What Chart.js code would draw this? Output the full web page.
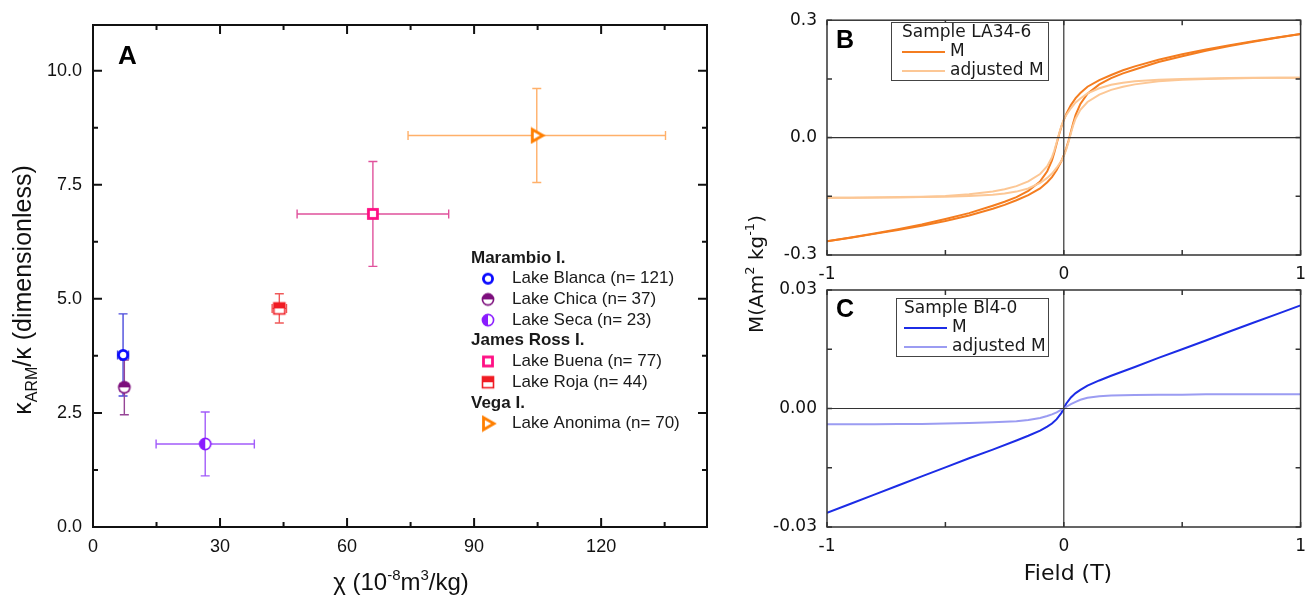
<!DOCTYPE html>
<html>
<head>
<meta charset="utf-8">
<script src="https://cdn.jsdelivr.net/npm/chart.js@4.4.1/dist/chart.umd.min.js"></script>
<style>
  html, body { margin: 0; padding: 0; background: #fff; }
  #wrap { position: relative; width: 1315px; height: 598px; overflow: hidden; }
  #wrap canvas { position: absolute; left: 0; top: 0; }
</style>
</head>
<body>
<div id="wrap">
  <canvas id="chartA" width="1315" height="598"></canvas>
  <canvas id="chartB" width="1315" height="598"></canvas>
  <canvas id="chartC" width="1315" height="598"></canvas>
</div>
<script>
// ===== panel A data =====
const islands     = ['Marambio I.', 'James Ross I.', 'Vega I.'];
const lakeNames   = ['Lake Blanca (n= 121)', 'Lake Chica (n= 37)', 'Lake Seca (n= 23)', 'Lake Buena (n= 77)', 'Lake Roja (n= 44)', 'Lake Anonima (n= 70)'];
const lakeIsland  = [0, 0, 0, 1, 1, 2];
const chiMean     = [7.1, 7.4, 26.5, 66.1, 44.0, 104.8];
const chiErr      = [1.3, 1.0, 11.6, 17.9, 1.7, 30.4];
const ratioMean   = [3.77, 3.06, 1.82, 6.86, 4.79, 8.58];
const ratioErr    = [0.9, 0.6, 0.7, 1.15, 0.32, 1.03];
const lakeMarker  = ['circle', 'circleTop', 'circleLeft', 'square', 'squareTop', 'triangle'];
const lakeColor   = ['#0a0aff', '#7d0f7d', '#8a1cff', '#ff0f84', '#f01c24', '#ff7f00'];
const errColor    = ['#4b4bdc', '#964596', '#a25cfa', '#e0529c', '#f05a5a', '#ffb06a'];
const aXTicks = [0, 30, 60, 90, 120];
const aXMinor = [15, 45, 75, 105, 135];
const aYTicks = [0, 2.5, 5, 7.5, 10];
const aYMinor = [1.25, 3.75, 6.25, 8.75];

// ===== panel B data (sample LA34-6) =====
const bFieldDown = [1, 0.9, 0.8, 0.7, 0.6, 0.5, 0.4, 0.3, 0.25, 0.2, 0.15, 0.1, 0.07, 0.05, 0.03, 0.01, 0, -0.01, -0.02, -0.03, -0.04, -0.05, -0.07, -0.1, -0.15, -0.2, -0.25, -0.3, -0.4, -0.5, -0.6, -0.7, -0.8, -0.9, -1];
const bMDown     = [0.265, 0.256, 0.246, 0.236, 0.225, 0.213, 0.199, 0.182, 0.172, 0.160, 0.147, 0.130, 0.114, 0.101, 0.083, 0.060, 0.045, 0.028, 0.008, -0.015, -0.038, -0.058, -0.086, -0.112, -0.136, -0.152, -0.164, -0.174, -0.193, -0.208, -0.222, -0.234, -0.245, -0.255, -0.265];
const bAdjDown   = [0.153, 0.153, 0.153, 0.152, 0.151, 0.150, 0.148, 0.144, 0.140, 0.135, 0.126, 0.113, 0.100, 0.090, 0.075, 0.057, 0.046, 0.030, 0.010, -0.012, -0.033, -0.050, -0.073, -0.093, -0.112, -0.124, -0.132, -0.138, -0.145, -0.149, -0.151, -0.152, -0.153, -0.154, -0.154];
const bFieldUp   = [-1, -0.9, -0.8, -0.7, -0.6, -0.5, -0.4, -0.3, -0.25, -0.2, -0.15, -0.1, -0.07, -0.05, -0.03, -0.01, 0, 0.01, 0.02, 0.03, 0.04, 0.05, 0.07, 0.1, 0.15, 0.2, 0.25, 0.3, 0.4, 0.5, 0.6, 0.7, 0.8, 0.9, 1];
const bMUp       = [-0.265, -0.256, -0.246, -0.236, -0.225, -0.213, -0.199, -0.182, -0.172, -0.160, -0.147, -0.130, -0.114, -0.101, -0.083, -0.060, -0.045, -0.028, -0.008, 0.015, 0.038, 0.058, 0.086, 0.112, 0.136, 0.152, 0.164, 0.174, 0.193, 0.208, 0.222, 0.234, 0.245, 0.255, 0.265];
const bAdjUp     = [-0.154, -0.154, -0.153, -0.153, -0.152, -0.151, -0.149, -0.146, -0.143, -0.138, -0.130, -0.116, -0.103, -0.092, -0.077, -0.059, -0.047, -0.031, -0.011, 0.011, 0.032, 0.049, 0.071, 0.091, 0.110, 0.122, 0.130, 0.136, 0.144, 0.148, 0.150, 0.151, 0.152, 0.153, 0.153];
const bXTicks = [-1, 0, 1];
const bXMinor = [-0.5, 0.5];
const bYTicks = [-0.3, 0, 0.3];
const bYMinor = [-0.15, 0.15];

// ===== panel C data (sample Bl4-0) =====
const cField = [-1, -0.9, -0.8, -0.7, -0.6, -0.5, -0.4, -0.3, -0.2, -0.15, -0.1, -0.07, -0.05, -0.03, -0.01, 0, 0.01, 0.03, 0.05, 0.07, 0.1, 0.15, 0.2, 0.3, 0.4, 0.5, 0.6, 0.7, 0.8, 0.9, 1];
const cM     = [-0.0264, -0.0241, -0.0218, -0.0195, -0.0172, -0.0149, -0.0126, -0.0104, -0.0081, -0.0069, -0.0056, -0.0046, -0.0038, -0.0027, -0.0011, 0, 0.0012, 0.0028, 0.0039, 0.0047, 0.0058, 0.0071, 0.0083, 0.0105, 0.0128, 0.0150, 0.0172, 0.0195, 0.0217, 0.0239, 0.0261];
const cAdj   = [-0.0040, -0.0040, -0.0040, -0.0039, -0.0039, -0.0038, -0.0037, -0.0035, -0.0032, -0.0029, -0.0024, -0.0019, -0.0015, -0.0010, -0.0003, 0, 0.0004, 0.0011, 0.0017, 0.0022, 0.0027, 0.0031, 0.0033, 0.0034, 0.0035, 0.0035, 0.0036, 0.0036, 0.0036, 0.0036, 0.0036];
const cXTicks = [-1, 0, 1];
const cXMinor = [-0.5, 0.5];
const cYTicks = [-0.03, 0, 0.03];
const cYMinor = [-0.015, 0.015];

const ARIAL  = '"Liberation Sans", Arial, Helvetica, sans-serif';
const DEJAVU = '"DejaVu Sans", Verdana, sans-serif';
const pts = (xs, ys) => xs.map((v, i) => ({ x: v, y: ys[i] }));

// ===== helpers =====
function makeMarker(kind, color) {
  const c = document.createElement('canvas');
  c.width = 18; c.height = 18;
  const g = c.getContext('2d'), m = 9;
  g.strokeStyle = color; g.fillStyle = color;
  if (kind === 'circle') {
    g.lineWidth = 2.8; g.beginPath(); g.arc(m, m, 4.6, 0, 2 * Math.PI);
    g.fillStyle = '#fff'; g.fill(); g.stroke();
  } else if (kind === 'circleTop' || kind === 'circleLeft') {
    g.beginPath(); g.arc(m, m, 5.6, 0, 2 * Math.PI); g.fillStyle = '#fff'; g.fill();
    g.fillStyle = color; g.beginPath();
    if (kind === 'circleTop') g.arc(m, m, 5.6, Math.PI, 2 * Math.PI);
    else g.arc(m, m, 5.6, Math.PI / 2, 1.5 * Math.PI);
    g.closePath(); g.fill();
    g.lineWidth = 1.6; g.beginPath(); g.arc(m, m, 5.6, 0, 2 * Math.PI); g.stroke();
  } else if (kind === 'square') {
    g.lineWidth = 2.8; g.fillStyle = '#fff';
    g.fillRect(m - 4.5, m - 4.5, 9, 9); g.strokeRect(m - 4.5, m - 4.5, 9, 9);
  } else if (kind === 'squareTop') {
    g.fillStyle = '#fff'; g.fillRect(m - 5.5, m - 5.5, 11, 11);
    g.fillStyle = color; g.fillRect(m - 5.5, m - 5.5, 11, 5.5);
    g.lineWidth = 1.6; g.strokeRect(m - 5.5, m - 5.5, 11, 11);
  } else if (kind === 'triangle') {
    g.lineWidth = 2.8; g.lineJoin = 'miter'; g.beginPath();
    g.moveTo(m - 4.5, m - 6); g.lineTo(m + 6, m); g.lineTo(m - 4.5, m + 6); g.closePath();
    g.fillStyle = '#fff'; g.fill(); g.stroke();
  }
  return c;
}

function drawRich(ctx, parts, family, x, y) {
  ctx.textAlign = 'left'; ctx.textBaseline = 'alphabetic';
  const w = parts.map(p => { ctx.font = `${p.size}px ${family}`; return ctx.measureText(p.t).width; });
  let cx = x - w.reduce((a, b) => a + b, 0) / 2;
  parts.forEach((p, i) => { ctx.font = `${p.size}px ${family}`; ctx.fillText(p.t, cx, y + (p.dy || 0)); cx += w[i]; });
}

// box, inward ticks on all sides, optional zero lines, panel letter
function makeFrame(o) {
  return {
    id: 'frame' + o.tag,
    afterDraw(chart) {
      const { ctx, chartArea: a, scales: { x, y } } = chart;
      ctx.save();
      ctx.strokeStyle = o.color;
      if (o.zero) {
        ctx.lineWidth = o.zeroWidth; ctx.beginPath();
        const zx = x.getPixelForValue(0), zy = y.getPixelForValue(0);
        ctx.moveTo(zx, a.top); ctx.lineTo(zx, a.bottom);
        ctx.moveTo(a.left, zy); ctx.lineTo(a.right, zy);
        ctx.stroke();
      }
      ctx.lineWidth = o.width; ctx.beginPath();
      const xt = (vals, len) => vals.forEach(v => {
        const p = x.getPixelForValue(v);
        ctx.moveTo(p, a.bottom); ctx.lineTo(p, a.bottom - len);
        ctx.moveTo(p, a.top); ctx.lineTo(p, a.top + len);
      });
      const yt = (vals, len) => vals.forEach(v => {
        const p = y.getPixelForValue(v);
        ctx.moveTo(a.left, p); ctx.lineTo(a.left + len, p);
        ctx.moveTo(a.right, p); ctx.lineTo(a.right - len, p);
      });
      xt(o.xMajor, o.major); xt(o.xMinor, o.minor);
      yt(o.yMajor, o.major); yt(o.yMinor, o.minor);
      ctx.stroke();
      ctx.strokeRect(a.left, a.top, a.right - a.left, a.bottom - a.top);
      ctx.fillStyle = '#000';
      ctx.font = `bold ${o.labelSize}px ${ARIAL}`;
      ctx.textAlign = 'left'; ctx.textBaseline = 'alphabetic';
      ctx.fillText(o.tag, a.left + o.labelDx, a.top + o.labelDy);
      ctx.restore();
    }
  };
}

// legend box for the hysteresis panels
function makeBoxLegend(o) {
  return {
    id: 'boxLegend' + o.id,
    afterDraw(chart) {
      const ctx = chart.ctx;
      ctx.save();
      ctx.fillStyle = '#fff'; ctx.strokeStyle = '#444'; ctx.lineWidth = 1;
      ctx.fillRect(o.x0, o.y0, o.x1 - o.x0, o.y1 - o.y0);
      ctx.strokeRect(o.x0 + 0.5, o.y0 + 0.5, o.x1 - o.x0, o.y1 - o.y0);
      ctx.font = `17px ${DEJAVU}`; ctx.fillStyle = '#1a1a1a';
      ctx.textAlign = 'left'; ctx.textBaseline = 'middle';
      ctx.fillText(o.title, o.tx, o.rows[0]);
      o.items.forEach((it, i) => {
        const yy = o.rows[i + 1];
        ctx.strokeStyle = it.color; ctx.lineWidth = 2;
        ctx.beginPath(); ctx.moveTo(o.tx, yy); ctx.lineTo(o.tx + 43, yy); ctx.stroke();
        ctx.fillText(it.label, o.tx + 48, yy);
      });
      ctx.restore();
    }
  };
}

// ===== panel A =====
(function () {
  const markers = lakeMarker.map((k, i) => makeMarker(k, lakeColor[i]));

  const errorBars = {
    id: 'errorBars',
    beforeDatasetsDraw(chart) {
      const { ctx, scales: { x, y } } = chart;
      ctx.save(); ctx.lineWidth = 1.4;
      lakeNames.forEach((_, i) => {
        const cx = x.getPixelForValue(chiMean[i]), cy = y.getPixelForValue(ratioMean[i]);
        const x0 = x.getPixelForValue(chiMean[i] - chiErr[i]), x1 = x.getPixelForValue(chiMean[i] + chiErr[i]);
        const y0 = y.getPixelForValue(ratioMean[i] - ratioErr[i]), y1 = y.getPixelForValue(ratioMean[i] + ratioErr[i]);
        ctx.strokeStyle = errColor[i]; ctx.beginPath();
        ctx.moveTo(x0, cy); ctx.lineTo(x1, cy);
        ctx.moveTo(cx, y0); ctx.lineTo(cx, y1);
        ctx.moveTo(x0, cy - 4.5); ctx.lineTo(x0, cy + 4.5);
        ctx.moveTo(x1, cy - 4.5); ctx.lineTo(x1, cy + 4.5);
        ctx.moveTo(cx - 4.5, y0); ctx.lineTo(cx + 4.5, y0);
        ctx.moveTo(cx - 4.5, y1); ctx.lineTo(cx + 4.5, y1);
        ctx.stroke();
      });
      ctx.restore();
    }
  };

  const legendA = {
    id: 'legendA',
    afterDraw(chart) {
      const ctx = chart.ctx;
      ctx.save(); ctx.fillStyle = '#1a1a1a'; ctx.textBaseline = 'middle'; ctx.textAlign = 'left';
      let row = 0;
      islands.forEach((isl, k) => {
        const yy = 258 + row * 20.7; row++;
        ctx.font = `bold 17px ${ARIAL}`; ctx.fillText(isl, 471, yy);
        lakeNames.forEach((name, i) => {
          if (lakeIsland[i] !== k) return;
          const ly = 258 + row * 20.7; row++;
          ctx.drawImage(markers[i], 488 - markers[i].width / 2, ly - markers[i].height / 2);
          ctx.font = `17px ${ARIAL}`; ctx.fillText(name, 512, ly);
        });
      });
      ctx.restore();
    }
  };

  const titlesA = {
    id: 'titlesA',
    afterDraw(chart) {
      const ctx = chart.ctx;
      ctx.save(); ctx.fillStyle = '#111';
      drawRich(ctx, [{ t: 'χ (10', size: 24 }, { t: '-8', size: 15, dy: -10 }, { t: 'm', size: 24 }, { t: '3', size: 15, dy: -10 }, { t: '/kg)', size: 24 }], ARIAL, 401, 590);
      ctx.translate(31, 290); ctx.rotate(-Math.PI / 2);
      drawRich(ctx, [{ t: 'κ', size: 25 }, { t: 'ARM', size: 16, dy: 6 }, { t: '/κ (dimensionless)', size: 25 }], ARIAL, 0, 0);
      ctx.restore();
    }
  };

  new Chart(document.getElementById('chartA'), {
    type: 'scatter',
    data: {
      datasets: lakeNames.map((name, i) => ({
        label: name,
        data: [{ x: chiMean[i], y: ratioMean[i] }],
        pointStyle: markers[i], pointRadius: 6, pointHoverRadius: 6
      }))
    },
    options: {
      responsive: false, animation: false, events: [],
      layout: { padding: { left: 0, top: 25, right: 1315 - 707, bottom: 0 } },
      plugins: { legend: { display: false }, tooltip: { enabled: false } },
      scales: {
        x: {
          type: 'linear', min: 0, max: 145,
          grid: { display: false, drawTicks: false }, border: { display: false },
          afterFit: s => { s.height = 598 - 527; },
          afterBuildTicks: s => { s.ticks = aXTicks.map(v => ({ value: v })); },
          ticks: { padding: 9, autoSkip: false, maxRotation: 0, color: '#111', font: { family: ARIAL, size: 18 }, callback: v => String(v) }
        },
        y: {
          type: 'linear', min: 0, max: 11,
          grid: { display: false, drawTicks: false }, border: { display: false },
          afterFit: s => { s.width = 93; },
          afterBuildTicks: s => { s.ticks = aYTicks.map(v => ({ value: v })); },
          ticks: { padding: 11, autoSkip: false, color: '#111', font: { family: ARIAL, size: 18 }, callback: v => Number(v).toFixed(1) }
        }
      }
    },
    plugins: [errorBars, makeFrame({ tag: 'A', color: '#111', width: 2, major: 9, minor: 5,
      xMajor: aXTicks, xMinor: aXMinor, yMajor: aYTicks, yMinor: aYMinor,
      labelSize: 26, labelDx: 25, labelDy: 39 }), legendA, titlesA]
  });
})();

// ===== panels B and C (hysteresis loops) =====
function hystScales(top, bottom, xTicks, yTicks, yDigits) {
  return {
    x: {
      type: 'linear', min: -1, max: 1,
      grid: { display: false, drawTicks: false }, border: { display: false },
      afterFit: s => { s.height = 598 - bottom; },
      afterBuildTicks: s => { s.ticks = xTicks.map(v => ({ value: v })); },
      ticks: { padding: 9, autoSkip: false, maxRotation: 0, color: '#111', font: { family: DEJAVU, size: 17 }, callback: v => String(v) }
    },
    y: {
      type: 'linear', min: yTicks[0], max: yTicks[yTicks.length - 1],
      grid: { display: false, drawTicks: false }, border: { display: false },
      afterFit: s => { s.width = 827; },
      afterBuildTicks: s => { s.ticks = yTicks.map(v => ({ value: v })); },
      ticks: { padding: 10, autoSkip: false, color: '#111', font: { family: DEJAVU, size: 17 }, callback: v => Number(v).toFixed(yDigits) }
    }
  };
}

const lineDs = (data, color) => ({ data, showLine: true, borderColor: color, borderWidth: 2, pointRadius: 0, tension: 0, fill: false });

(function () {
  const mCol = '#f47d20', adjCol = '#fcc795';
  new Chart(document.getElementById('chartB'), {
    type: 'scatter',
    data: {
      datasets: [
        lineDs(pts(bFieldDown, bAdjDown), adjCol),
        lineDs(pts(bFieldUp, bAdjUp), adjCol),
        lineDs(pts(bFieldDown, bMDown), mCol),
        lineDs(pts(bFieldUp, bMUp), mCol)
      ]
    },
    options: {
      responsive: false, animation: false, events: [],
      layout: { padding: { left: 0, top: 18, right: 6, bottom: 0 } },
      plugins: { legend: { display: false }, tooltip: { enabled: false } },
      scales: hystScales(18, 255, bXTicks, bYTicks, 1)
    },
    plugins: [makeFrame({ tag: 'B', color: '#333', width: 1.5, zero: true, zeroWidth: 1.2, major: 5, minor: 5,
      xMajor: bXTicks, xMinor: bXMinor, yMajor: bYTicks, yMinor: bYMinor,
      labelSize: 25, labelDx: 9, labelDy: 28 }),
      makeBoxLegend({ id: 'B', x0: 891, y0: 22, x1: 1048, y1: 80, tx: 902, rows: [33, 52, 71], title: 'Sample LA34-6',
        items: [{ label: 'M', color: mCol }, { label: 'adjusted M', color: adjCol }] })]
  });
})();

(function () {
  const mCol = '#1c2ce6', adjCol = '#9b9cf2';
  const titlesC = {
    id: 'titlesC',
    afterDraw(chart) {
      const ctx = chart.ctx;
      ctx.save(); ctx.fillStyle = '#111';
      drawRich(ctx, [{ t: 'Field (T)', size: 22 }], DEJAVU, 1068, 580);
      ctx.translate(763, 274); ctx.rotate(-Math.PI / 2);
      drawRich(ctx, [{ t: 'M(Am', size: 20 }, { t: '2', size: 13, dy: -9 }, { t: ' kg', size: 20 }, { t: '-1', size: 13, dy: -9 }, { t: ')', size: 20 }], DEJAVU, 0, 0);
      ctx.restore();
    }
  };
  new Chart(document.getElementById('chartC'), {
    type: 'scatter',
    data: {
      datasets: [
        lineDs(pts(cField, cAdj), adjCol),
        lineDs(pts(cField, cM), mCol)
      ]
    },
    options: {
      responsive: false, animation: false, events: [],
      layout: { padding: { left: 0, top: 290, right: 6, bottom: 0 } },
      plugins: { legend: { display: false }, tooltip: { enabled: false } },
      scales: hystScales(290, 527, cXTicks, cYTicks, 2)
    },
    plugins: [makeFrame({ tag: 'C', color: '#333', width: 1.5, zero: true, zeroWidth: 1.2, major: 5, minor: 5,
      xMajor: cXTicks, xMinor: cXMinor, yMajor: cYTicks, yMinor: cYMinor,
      labelSize: 25, labelDx: 9, labelDy: 27 }),
      makeBoxLegend({ id: 'C', x0: 896, y0: 298, x1: 1048, y1: 356, tx: 904, rows: [309, 328, 347], title: 'Sample Bl4-0',
        items: [{ label: 'M', color: mCol }, { label: 'adjusted M', color: adjCol }] }),
      titlesC]
  });
})();
</script>
</body>
</html>
